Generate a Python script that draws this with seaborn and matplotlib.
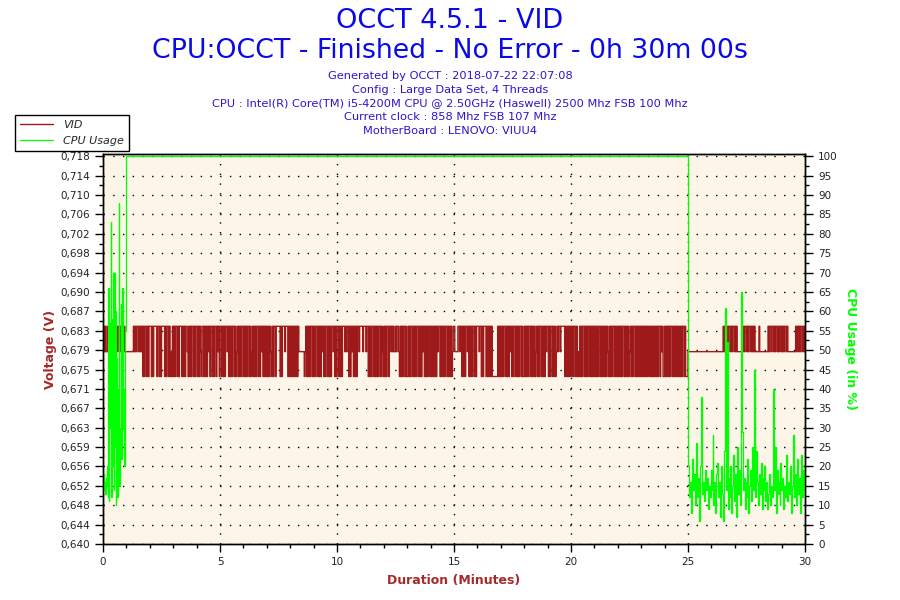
import numpy as np
import matplotlib
matplotlib.use('Agg')
import matplotlib.pyplot as plt
import seaborn as sns
from matplotlib.ticker import AutoMinorLocator

# VID levels (V) and the code used for each sample in the strings below
vid_levels = {'h': 0.6838, 'b': 0.6787, 'l': 0.6737}

# VID samples, one string per minute (0..29)
vid_minutes = [
    "hbhbbhbhhbhbhbbhbhbhhbhbbhbhbb",
    "bbbbbbbbbhbhbhhbhbhbhlhlhhlhlh",
    "hhlhlhhhhlhhlhlhhhhlhlhhlhlblh",
    "lhlhhlhlhhhlhlhlhhblhlhlhhlhlh",
    "hlhlhblhhlhlhlhbhlhhlhlhhlhbhl",
    "hhlhlhlhhbhlhlhlhhlhlbhlhlhlhh",
    "lhlhlhhlhlbhlhlhlhhlhlhbhlhlhl",
    "hlhlhblhlhhlhhhhhlhlhhhbhhhlhl",
    "hlhlhlhlhlhbbbbbbblbhlhlhlhhlh",
    "lhlhhlhlhlhbhlhlhhlhlhlhhbhlhl",
    "hhlhlhlhhhbhbhhlhlhbhlhlhlhhbh",
    "hhhbhhhbhhlhlhlhhlhlhlhlhhlhbl",
    "hlhlhhlhhbhbhbbhbhhblhlhlhhlhl",
    "lhlhlhhlhlhlhhlhlhlhbhlhlhlhhl",
    "hlhlhlhlhbhhlhlhlhlhhlhlhlhlbh",
    "hbbbbhhbhhlhlhlhhbhlhlhlhhlhlh",
    "hhbhhlhlhhhlhlhlhlhlllllllhlhl",
    "hlhlhhlhlhlhbhlhlhhlhlhlhhlhll",
    "hlhlhlhhlhlhlhlbhlhlhhlhlhlhbh",
    "hlhlhhlhlhlbhbhhbhhhhhlhlhlhlh",
    "hlhlhhlhlblhlhlhhlhlhlhhlhlhlh",
    "lhlhlhhlhlhlhlhlhblhlhlhhlhlhl",
    "hlhlhlhhlhlhlhlbhlhlhhlhlhlhlh",
    "lhlhlhlhlhhlhlhlhlhlhlhhlhbhll",
    "hlhlhlhlhhlhlhlhlhlhlhlhhlhlll",
    "bbbbbbbbbbbbbbbbbbbbbbbbbbbbbb",
    "bbbbbbbbbbbbbbbhbhhbhbhhbhbhhb",
    "hbhbbbbbbbbhbhhbhbhhbhbhbhbbbb",
    "bhbbbbbbbbbbbhbhhbhhbhbhhbhbhhb",
    "hbhbhhbhbbbbbbbbbbhbhhbhbhhbhb",
]

# CPU usage (%) during the first minute, one value every 1.5 s
cpu_start = [15, 18, 14, 16, 13, 17, 15, 20, 12, 66, 11, 57, 30, 83, 12, 58,
             20, 70, 14, 70, 25, 60, 10, 48, 12, 40, 28, 88, 15, 30, 62, 22,
             45, 66, 30, 40, 20, 35, 55, 62]
# full load phase
cpu_load = 100
load_start, load_end = 1.0, 25.0
# CPU usage (%) after the test finished (25 -> 30 min)
cpu_tail = [20, 12, 16, 8, 22, 14, 18, 10, 15, 26, 12, 17, 6, 20, 38, 13,
            16, 11, 19, 14, 17, 9, 15, 12, 19, 14, 28, 10, 16, 8, 18, 21,
            12, 16, 7, 20, 13, 6, 24, 61, 14, 52, 9, 17, 12, 20, 8, 15,
            23, 11, 18, 7, 25, 13, 19, 10, 65, 29, 14, 17, 9, 16, 12, 22,
            8, 15, 19, 11, 25, 14, 45, 12, 24, 16, 10, 18, 13, 21, 9, 17,
            14, 20, 11, 16, 9, 13, 18, 10, 15, 12, 40, 14, 25, 8, 19, 13,
            16, 10, 21, 14, 17, 9, 15, 12, 23, 11, 16, 13, 20, 8, 15, 28,
            12, 18, 10, 14, 22, 13, 17, 8, 23, 12, 19, 14, 20]

volt_ticks = ["0,640", "0,644", "0,648", "0,652", "0,656", "0,659", "0,663",
              "0,667", "0,671", "0,675", "0,679", "0,683", "0,687", "0,690",
              "0,694", "0,698", "0,702", "0,706", "0,710", "0,714", "0,718"]
volt_min, volt_max = 0.640, 0.718

title_lines = ["OCCT 4.5.1 - VID", "CPU:OCCT - Finished - No Error - 0h 30m 00s"]
info_lines = [
    "Generated by OCCT : 2018-07-22 22:07:08",
    "Config : Large Data Set, 4 Threads",
    "CPU : Intel(R) Core(TM) i5-4200M CPU @ 2.50GHz (Haswell) 2500 Mhz FSB 100 Mhz",
    "Current clock : 858 Mhz FSB 107 Mhz",
    "MotherBoard : LENOVO: VIUU4",
]

RED = '#9E1A1A'
GREEN = '#00FF00'
LABEL_RED = '#A52A2A'

# build sample times
vid_t, vid_v = [], []
for m, s in enumerate(vid_minutes):
    for i, c in enumerate(s):
        vid_t.append(m + i / len(s))
        vid_v.append(vid_levels[c])
vid_t.append(30.0)
vid_v.append(vid_v[-1])

cpu_t = list(np.arange(len(cpu_start)) / 40) + [load_start] + \
    list(np.linspace(load_end, 30.0, len(cpu_tail)))
cpu_v = cpu_start + [cpu_load] + cpu_tail

sns.set_style('ticks')
fig = plt.figure(figsize=(9, 6), dpi=100)
ax = fig.add_axes([103 / 900, 56 / 600, 702 / 900, 390 / 600])
ax.set_facecolor('#FDF6E8')
ax2 = ax.twinx()

sns.lineplot(x=vid_t, y=vid_v, ax=ax, color=RED, linewidth=1.0,
             drawstyle='steps-post', estimator=None, sort=False, legend=False)
sns.lineplot(x=cpu_t, y=cpu_v, ax=ax2, color=GREEN, linewidth=0.9,
             drawstyle='steps-post', estimator=None, sort=False, legend=False)

# small headroom so the 100 % line sits just under the top frame
pad = 0.006
ax.set_xlim(0, 30)
ax.set_ylim(volt_min, volt_max + pad * (volt_max - volt_min))
ax2.set_ylim(0, 100 * (1 + pad))

ax.set_xticks(range(0, 31, 5))
ax.xaxis.set_minor_locator(AutoMinorLocator(5))
ax.set_yticks(np.linspace(volt_min, volt_max, len(volt_ticks)))
ax.set_yticklabels(volt_ticks)
ax.yaxis.set_minor_locator(AutoMinorLocator(2))
ax2.set_yticks(range(0, 101, 5))
ax2.yaxis.set_minor_locator(AutoMinorLocator(2))

for a in (ax, ax2):
    a.tick_params(which='major', length=6, width=1, labelsize=7.5,
                  labelcolor='#222222', color='black')
    a.tick_params(which='minor', length=3, width=1, color='black')
    for sp in a.spines.values():
        sp.set_color('black')
        sp.set_linewidth(1)

ax.set_axisbelow(True)
ax.grid(True, which='major', color='black', linestyle=(0, (1, 6)), linewidth=1)
ax2.grid(False)

ax.set_xlabel('Duration (Minutes)', color=LABEL_RED, fontweight='bold',
              fontsize=9, labelpad=5)
ax.set_ylabel('Voltage (V)', color=LABEL_RED, fontweight='bold',
              fontsize=9, labelpad=2)
ax2.set_ylabel('CPU Usage (in %)', color=GREEN, fontweight='bold',
               fontsize=9, rotation=270, labelpad=14)

fig.text(0.5, 1 - 21 / 600, title_lines[0], ha='center', va='center',
         fontsize=19.5, color='#0A0AE6')
fig.text(0.5, 1 - 51 / 600, title_lines[1], ha='center', va='center',
         fontsize=19.3, color='#0A0AE6')
for k, line in enumerate(info_lines):
    fig.text(0.5, 1 - (76 + 13.7 * k) / 600, line, ha='center', va='center',
             fontsize=8.2, color='#3311CC')

handles = [ax.get_lines()[0], ax2.get_lines()[0]]
fig.legend(handles, ['VID', 'CPU Usage'], loc='upper left',
           bbox_to_anchor=(15 / 900, 1 - 115 / 600), frameon=True,
           fancybox=False, edgecolor='black', framealpha=1,
           prop={'style': 'italic', 'size': 8}, handlelength=3.0,
           borderaxespad=0, borderpad=0.45, labelspacing=0.55,
           handletextpad=0.9)

fig.savefig('out.png', dpi=100)
